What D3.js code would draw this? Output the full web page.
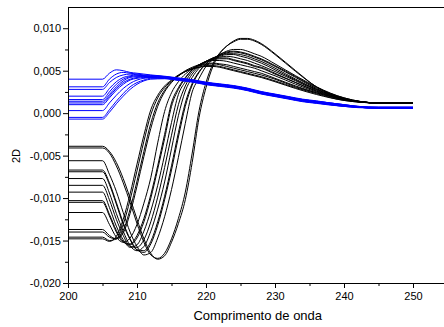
<!DOCTYPE html>
<html>
<head>
<meta charset="utf-8">
<script src="https://cdn.jsdelivr.net/npm/d3@7"></script>
<style>
  html, body { margin: 0; padding: 0; background: #fff; }
  svg { display: block; }
  text { font-family: Arial, "Liberation Sans", sans-serif; fill: #000; }
</style>
</head>
<body>
<svg id="chart" width="444" height="327"></svg>
<script>
// Wavelength grids (nm)
const wavelengthsBlack = [200, 205, 206, 207, 208, 209, 210, 211, 212, 213, 214, 215, 216, 217, 218, 219, 220, 221, 222, 223, 224, 225, 226, 227, 228, 230, 233, 236, 240, 245, 250];
const wavelengthsBlue = [200, 205, 206, 207, 208, 209, 210, 211, 212, 214, 216, 218, 220, 222, 224, 226, 228, 230, 232, 234, 236, 238, 240, 242, 245, 250];

// Second-derivative spectra, black set
const blackSpectra = [
  [-0.0148, -0.0148, -0.0151, -0.0145, -0.0125, -0.0095, -0.0060, -0.0026, 0.0004, 0.0021, 0.0032, 0.0039, 0.0045, 0.0049, 0.0052, 0.0054, 0.0055, 0.0055, 0.0054, 0.0052, 0.0050, 0.0048, 0.0046, 0.0044, 0.0042, 0.0037, 0.0029, 0.0022, 0.0015, 0.0012, 0.0012],
  [-0.0146, -0.0146, -0.0150, -0.0148, -0.0131, -0.0102, -0.0068, -0.0033, -0.0002, 0.0018, 0.0030, 0.0038, 0.0044, 0.0049, 0.0052, 0.0054, 0.0056, 0.0056, 0.0055, 0.0053, 0.0051, 0.0049, 0.0047, 0.0045, 0.0043, 0.0038, 0.0030, 0.0023, 0.0015, 0.0012, 0.0012],
  [-0.0140, -0.0140, -0.0146, -0.0148, -0.0138, -0.0113, -0.0080, -0.0045, -0.0012, 0.0012, 0.0027, 0.0037, 0.0044, 0.0049, 0.0053, 0.0056, 0.0057, 0.0058, 0.0057, 0.0055, 0.0053, 0.0051, 0.0049, 0.0047, 0.0045, 0.0040, 0.0031, 0.0024, 0.0016, 0.0012, 0.0012],
  [-0.0137, -0.0137, -0.0144, -0.0148, -0.0141, -0.0118, -0.0086, -0.0051, -0.0018, 0.0008, 0.0025, 0.0036, 0.0044, 0.0050, 0.0054, 0.0057, 0.0058, 0.0059, 0.0058, 0.0057, 0.0055, 0.0053, 0.0051, 0.0049, 0.0047, 0.0041, 0.0032, 0.0024, 0.0016, 0.0012, 0.0012],
  [-0.0117, -0.0117, -0.0131, -0.0146, -0.0152, -0.0147, -0.0131, -0.0106, -0.0076, -0.0035, 0.0002, 0.0024, 0.0037, 0.0046, 0.0052, 0.0057, 0.0060, 0.0062, 0.0062, 0.0061, 0.0059, 0.0057, 0.0055, 0.0053, 0.0050, 0.0044, 0.0034, 0.0025, 0.0016, 0.0012, 0.0012],
  [-0.0105, -0.0105, -0.0121, -0.0140, -0.0152, -0.0154, -0.0144, -0.0124, -0.0096, -0.0062, -0.0025, 0.0012, 0.0030, 0.0042, 0.0051, 0.0057, 0.0061, 0.0063, 0.0064, 0.0064, 0.0062, 0.0060, 0.0058, 0.0055, 0.0053, 0.0046, 0.0036, 0.0026, 0.0016, 0.0012, 0.0012],
  [-0.0103, -0.0103, -0.0119, -0.0138, -0.0151, -0.0155, -0.0147, -0.0128, -0.0100, -0.0066, -0.0030, 0.0008, 0.0028, 0.0041, 0.0051, 0.0057, 0.0061, 0.0064, 0.0065, 0.0065, 0.0063, 0.0061, 0.0059, 0.0056, 0.0054, 0.0047, 0.0036, 0.0026, 0.0017, 0.0012, 0.0012],
  [-0.0093, -0.0093, -0.0111, -0.0133, -0.0149, -0.0158, -0.0155, -0.0139, -0.0115, -0.0085, -0.0049, -0.0011, 0.0022, 0.0037, 0.0049, 0.0056, 0.0061, 0.0064, 0.0066, 0.0067, 0.0066, 0.0064, 0.0062, 0.0059, 0.0056, 0.0049, 0.0038, 0.0027, 0.0017, 0.0012, 0.0012],
  [-0.0085, -0.0085, -0.0102, -0.0125, -0.0144, -0.0157, -0.0158, -0.0149, -0.0128, -0.0099, -0.0064, -0.0026, 0.0010, 0.0032, 0.0046, 0.0055, 0.0061, 0.0065, 0.0067, 0.0069, 0.0069, 0.0067, 0.0065, 0.0062, 0.0059, 0.0051, 0.0039, 0.0028, 0.0017, 0.0012, 0.0012],
  [-0.0077, -0.0077, -0.0094, -0.0118, -0.0139, -0.0156, -0.0162, -0.0157, -0.0139, -0.0113, -0.0081, -0.0042, -0.0003, 0.0026, 0.0042, 0.0053, 0.0060, 0.0065, 0.0068, 0.0070, 0.0070, 0.0069, 0.0067, 0.0064, 0.0061, 0.0053, 0.0040, 0.0028, 0.0017, 0.0012, 0.0012],
  [-0.0069, -0.0069, -0.0084, -0.0107, -0.0131, -0.0149, -0.0161, -0.0162, -0.0151, -0.0128, -0.0098, -0.0062, -0.0023, 0.0012, 0.0035, 0.0049, 0.0058, 0.0064, 0.0068, 0.0071, 0.0072, 0.0071, 0.0069, 0.0066, 0.0063, 0.0055, 0.0042, 0.0029, 0.0017, 0.0012, 0.0012],
  [-0.0067, -0.0067, -0.0082, -0.0105, -0.0129, -0.0148, -0.0161, -0.0164, -0.0154, -0.0132, -0.0102, -0.0067, -0.0028, 0.0008, 0.0033, 0.0048, 0.0058, 0.0064, 0.0069, 0.0072, 0.0073, 0.0072, 0.0070, 0.0067, 0.0064, 0.0056, 0.0043, 0.0030, 0.0018, 0.0012, 0.0012],
  [-0.0056, -0.0056, -0.0072, -0.0092, -0.0117, -0.0140, -0.0157, -0.0167, -0.0164, -0.0147, -0.0122, -0.0090, -0.0052, -0.0012, 0.0025, 0.0041, 0.0055, 0.0063, 0.0069, 0.0073, 0.0075, 0.0075, 0.0073, 0.0070, 0.0067, 0.0058, 0.0044, 0.0031, 0.0018, 0.0012, 0.0012],
  [-0.0041, -0.0041, -0.0047, -0.0062, -0.0082, -0.0105, -0.0130, -0.0152, -0.0167, -0.0171, -0.0165, -0.0148, -0.0124, -0.0093, -0.0047, 0.0003, 0.0036, 0.0058, 0.0071, 0.0079, 0.0084, 0.0087, 0.0087, 0.0085, 0.0081, 0.0069, 0.0049, 0.0031, 0.0017, 0.0012, 0.0012],
  [-0.0039, -0.0039, -0.0045, -0.0058, -0.0077, -0.0100, -0.0125, -0.0148, -0.0165, -0.0172, -0.0168, -0.0152, -0.0130, -0.0102, -0.0058, -0.0005, 0.0030, 0.0055, 0.0070, 0.0079, 0.0085, 0.0088, 0.0088, 0.0086, 0.0082, 0.0070, 0.0050, 0.0031, 0.0017, 0.0012, 0.0012]
];

// Second-derivative spectra, blue set
const blueSpectra = [
  [0.0040, 0.0040, 0.0047, 0.0051, 0.0050, 0.0048, 0.0047, 0.0046, 0.0045, 0.00435, 0.00415, 0.00395, 0.00365, 0.00345, 0.00325, 0.00295, 0.00255, 0.00225, 0.00195, 0.00165, 0.00145, 0.0012, 0.0010, 0.0008, 0.0007, 0.0007],
  [0.0031, 0.0031, 0.0040, 0.0046, 0.0048, 0.0047, 0.0046, 0.0045, 0.00445, 0.0043, 0.0041, 0.0039, 0.0036, 0.0034, 0.0032, 0.0029, 0.0025, 0.0022, 0.0019, 0.0016, 0.0014, 0.0012, 0.0010, 0.0008, 0.0007, 0.0007],
  [0.0028, 0.0028, 0.0036, 0.0042, 0.0045, 0.0046, 0.0045, 0.0044, 0.0044, 0.0043, 0.0041, 0.0039, 0.0036, 0.0034, 0.0032, 0.0029, 0.0025, 0.0022, 0.0019, 0.0016, 0.0014, 0.0012, 0.0010, 0.0008, 0.0007, 0.0007],
  [0.0020, 0.0020, 0.0029, 0.0037, 0.0042, 0.0044, 0.0045, 0.0044, 0.0043, 0.00425, 0.00405, 0.00385, 0.00355, 0.00335, 0.00315, 0.00285, 0.00245, 0.00215, 0.00185, 0.00155, 0.00135, 0.00115, 0.00095, 0.00075, 0.00065, 0.00065],
  [0.0016, 0.0016, 0.0025, 0.0034, 0.0040, 0.0043, 0.0044, 0.0044, 0.0043, 0.0042, 0.0040, 0.0038, 0.0035, 0.0033, 0.0031, 0.0028, 0.0024, 0.0021, 0.0018, 0.0015, 0.0013, 0.0011, 0.0009, 0.0007, 0.0006, 0.0006],
  [0.0014, 0.0014, 0.0022, 0.0031, 0.0038, 0.0042, 0.0043, 0.0043, 0.0043, 0.0042, 0.0040, 0.0038, 0.0035, 0.0033, 0.0031, 0.0028, 0.0024, 0.0021, 0.0018, 0.0015, 0.0013, 0.0011, 0.0009, 0.0007, 0.0006, 0.0006],
  [0.0012, 0.0012, 0.0020, 0.0029, 0.0036, 0.0040, 0.0042, 0.0043, 0.0043, 0.0042, 0.0040, 0.0038, 0.0035, 0.0033, 0.0031, 0.0028, 0.0024, 0.0021, 0.0018, 0.0015, 0.0013, 0.0011, 0.0009, 0.0007, 0.0006, 0.0006],
  [0.0010, 0.0010, 0.0018, 0.0027, 0.0034, 0.0039, 0.0041, 0.0042, 0.0042, 0.00415, 0.00395, 0.00375, 0.00345, 0.00325, 0.00305, 0.00275, 0.00235, 0.00205, 0.00175, 0.00145, 0.00125, 0.00105, 0.00085, 0.0007, 0.0006, 0.0006],
  [0.0003, 0.0003, 0.0012, 0.0021, 0.0029, 0.0035, 0.0039, 0.0041, 0.0042, 0.0041, 0.0039, 0.0037, 0.0034, 0.0032, 0.0030, 0.0027, 0.0023, 0.0020, 0.0017, 0.0014, 0.0012, 0.0010, 0.0008, 0.0007, 0.0006, 0.0006],
  [-0.0005, -0.0005, 0.0004, 0.0014, 0.0023, 0.0031, 0.0036, 0.0039, 0.0041, 0.0041, 0.0039, 0.0037, 0.0034, 0.0032, 0.0030, 0.0027, 0.0023, 0.0020, 0.0017, 0.0014, 0.0012, 0.0010, 0.0008, 0.0007, 0.0006, 0.0006],
  [-0.0007, -0.0007, 0.0001, 0.0011, 0.0020, 0.0028, 0.0034, 0.0038, 0.0040, 0.00405, 0.00385, 0.00365, 0.00335, 0.00315, 0.00295, 0.00265, 0.00225, 0.00195, 0.00165, 0.00135, 0.00115, 0.00095, 0.0008, 0.00065, 0.0006, 0.0006]
];

// Axis ticks
const xMajorTicks = [200, 210, 220, 230, 240, 250];
const xMinorTicks = [205, 215, 225, 235, 245];
const yMajorTicks = [-0.020, -0.015, -0.010, -0.005, 0.000, 0.005, 0.010];
const yMinorTicks = [-0.0175, -0.0125, -0.0075, -0.0025, 0.0025, 0.0075];

const xDomain = [200, 255];
const yDomain = [-0.020, 0.0125];

const svg = d3.select("#chart");
const x = d3.scaleLinear().domain(xDomain).range([68, 447.5]);
const y = d3.scaleLinear().domain(yDomain).range([283, 7]);

const locale = d3.formatLocale({ decimal: ",", thousands: ".", grouping: [3], currency: ["", ""], minus: "-" });
const yFormat = locale.format(".3f");

const line = d3.line()
  .x(d => x(d[0]))
  .y(d => y(d[1]))
  .curve(d3.curveMonotoneX);

const plot = svg.append("g");

plot.selectAll("path.black")
  .data(blackSpectra)
  .join("path")
  .attr("class", "black")
  .attr("fill", "none")
  .attr("stroke", "#000")
  .attr("stroke-width", 1)
  .attr("d", vals => line(vals.map((v, i) => [wavelengthsBlack[i], v])));

plot.selectAll("path.blue")
  .data(blueSpectra)
  .join("path")
  .attr("class", "blue")
  .attr("fill", "none")
  .attr("stroke", "#0000ff")
  .attr("stroke-width", 1)
  .attr("d", vals => line(vals.map((v, i) => [wavelengthsBlue[i], v])));

// Frame top edge
svg.append("line")
  .attr("x1", x(xDomain[0])).attr("x2", x(xDomain[1]))
  .attr("y1", y(yDomain[1]) + 0.5).attr("y2", y(yDomain[1]) + 0.5)
  .attr("stroke", "#000").attr("stroke-width", 1);

// X axis
const xAxisG = svg.append("g").attr("transform", `translate(0,${y(yDomain[0])})`);
xAxisG.call(d3.axisBottom(x).tickValues(xMajorTicks).tickSize(5).tickSizeOuter(0).tickPadding(4).tickFormat(d3.format("d")));
xAxisG.append("g").call(d3.axisBottom(x).tickValues(xMinorTicks).tickSize(3).tickSizeOuter(0).tickFormat(""))
  .select(".domain").remove();

// Y axis
const yAxisG = svg.append("g").attr("transform", `translate(${x(xDomain[0])},0)`);
yAxisG.call(d3.axisLeft(y).tickValues(yMajorTicks).tickSize(5).tickSizeOuter(0).tickPadding(2).tickFormat(yFormat));
yAxisG.append("g").call(d3.axisLeft(y).tickValues(yMinorTicks).tickSize(3).tickSizeOuter(0).tickFormat(""))
  .select(".domain").remove();

svg.selectAll(".tick text")
  .attr("font-size", 11)
  .attr("font-family", "Arial, 'Liberation Sans', sans-serif")
  .attr("fill", "#000");
svg.selectAll(".domain, .tick line").attr("stroke", "#000");

// Axis titles
svg.append("text")
  .attr("x", (x(xDomain[0]) + x(xDomain[1])) / 2)
  .attr("y", 320)
  .attr("text-anchor", "middle")
  .attr("font-size", 13)
  .text("Comprimento de onda");

svg.append("text")
  .attr("transform", "translate(20,156) rotate(-90)")
  .attr("text-anchor", "middle")
  .attr("font-size", 11)
  .text("2D");
</script>
</body>
</html>
